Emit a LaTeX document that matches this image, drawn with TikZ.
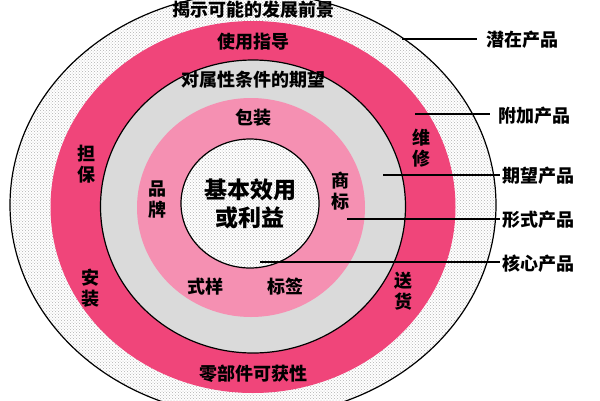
\documentclass[tikz,border=0pt]{standalone}
\usepackage{fontspec}
\newfontfamily\cjk{Noto Sans CJK SC}
\usetikzlibrary{patterns}
\definecolor{hotpink}{HTML}{F0457A}
\definecolor{lightpink}{HTML}{F590B2}
\definecolor{ringgray}{HTML}{DADADA}
\begin{document}
\begin{tikzpicture}[x=1pt,y=-1pt,
  txt/.style={font=\cjk\bfseries\fontsize{18}{21}\selectfont, inner sep=1pt, align=center, text=black},
  bigtxt/.style={font=\cjk\bfseries\fontsize{23}{28}\selectfont, inner sep=1pt, align=center},
  rlabel/.style={txt, anchor=west, inner sep=2pt},
  leader/.style={draw=black, line width=1.3pt},
  dotfill/.style={pattern=crosshatch dots, pattern color=gray!60},
  ringline/.style={draw=black, line width=1.2pt}]
\useasboundingbox (0,0) rectangle (600,400);
\begin{scope}
\clip (0,0) rectangle (600,400);
% outer (potential product)
\fill[white] (253,205) ellipse [x radius=243, y radius=212];
\fill[dotfill] (253,205) ellipse [x radius=243, y radius=212];
\draw[ringline] (253,205) ellipse [x radius=243, y radius=212];
% augmented product ring
\fill[hotpink] (253,207) ellipse [x radius=202.5, y radius=186];
% expected product ring
\fill[ringgray] (253,206.5) ellipse [x radius=152.5, y radius=146.5];
\draw[ringline] (253,206.5) ellipse [x radius=152.5, y radius=146.5];
% formal product ring
\fill[lightpink] (251,207.5) ellipse [x radius=114, y radius=109.5];
% core
\fill[white] (250,203.5) ellipse [x radius=69, y radius=64.5];
\fill[dotfill] (250,203.5) ellipse [x radius=69, y radius=64.5];
\draw[ringline] (250,203.5) ellipse [x radius=69, y radius=64.5];
\end{scope}

% texts in rings
\node[txt] (t1) at (253,10) {揭示可能的发展前景};
\node[txt] (t2) at (253,42) {使用指导};
\node[txt] (t3) at (253,80) {对属性条件的期望};
\node[txt] (t4) at (253,118) {包装};
\node[bigtxt] (core) at (250,204) {基本效用\\或利益};
\node[txt] (danbao) at (86,164) {担\\保};
\node[txt] (weixiu) at (421,148) {维\\修};
\node[txt] (pinpai) at (157,200) {品\\牌};
\node[txt] (shangbiao) at (340,191) {商\\标};
\node[txt] (anzhuang) at (90,288) {安\\装};
\node[txt] (songhuo) at (403,291) {送\\货};
\node[txt] (shiyang) at (205,287) {式样};
\node[txt] (biaoqian) at (285,287) {标签};
\node[txt] (lingbujian) at (253,374) {零部件可获性};

% right labels
\node[rlabel] (l1) at (484,40) {潜在产品};
\node[rlabel] (l2) at (496,116) {附加产品};
\node[rlabel] (l3) at (500,176) {期望产品};
\node[rlabel] (l4) at (500,220) {形式产品};
\node[rlabel] (l5) at (500,264) {核心产品};

\coordinate (p1) at (402,39);
\coordinate (p2) at (415,114);
\coordinate (p3) at (383,175);
\coordinate (p4) at (347,219);
\coordinate (p5) at (260,262);

\draw[leader] (p1) -- ([xshift=-7pt]l1.west |- p1);
\draw[leader] (p2) -- ([xshift=-6pt]l2.west |- p2);
\draw[leader] (p3) -- (l3.west |- p3);
\draw[leader] (p4) -- (l4.west |- p4);
\draw[leader] (p5) -- (l5.west |- p5);
\end{tikzpicture}
\end{document}
